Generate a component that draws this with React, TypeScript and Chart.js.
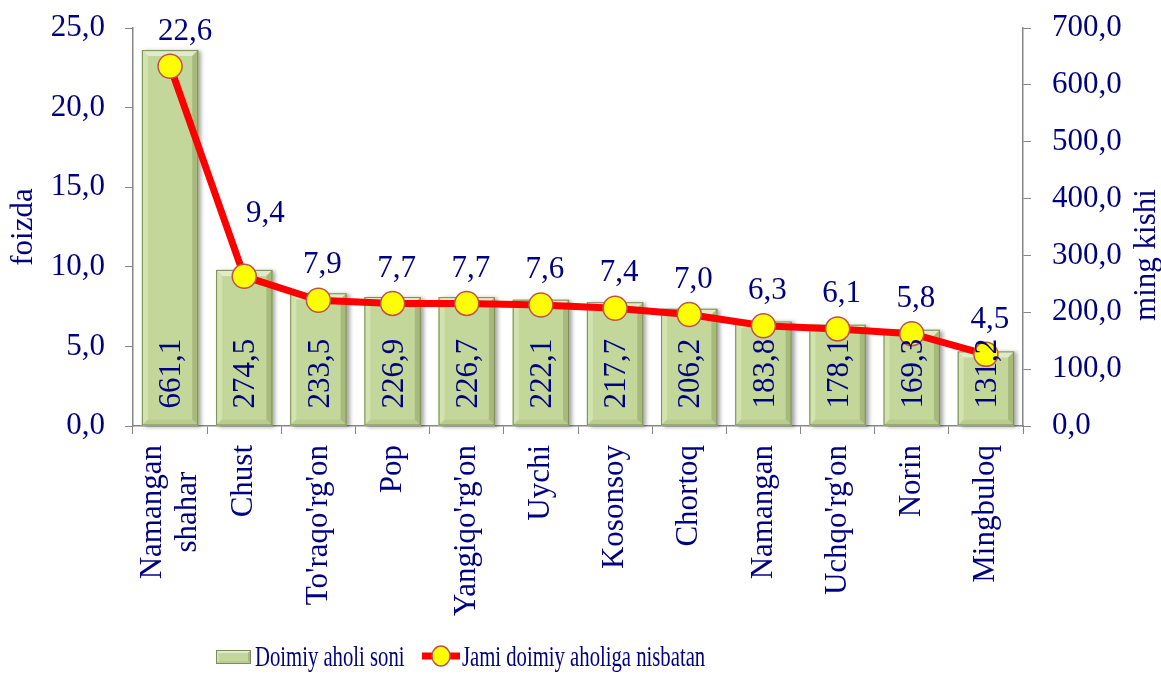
import React, { useEffect, useRef } from 'react';
import { Chart, registerables } from 'chart.js';

Chart.register(...registerables);

const categories: (string | string[])[] = [
  ['Namangan', 'shahar'], 'Chust', "To'raqo'rg'on", 'Pop', "Yangiqo'rg'on", 'Uychi',
  'Kosonsoy', 'Chortoq', 'Namangan', "Uchqo'rg'on", 'Norin', 'Mingbuloq',
];
const population = [661.1, 274.5, 233.5, 226.9, 226.7, 222.1, 217.7, 206.2, 183.8, 178.1, 169.3, 131.2];
const share = [22.6, 9.4, 7.9, 7.7, 7.7, 7.6, 7.4, 7.0, 6.3, 6.1, 5.8, 4.5];
const leftAxisMax = 25;
const leftAxisStep = 5;
const rightAxisMax = 700;
const rightAxisStep = 100;
const barLegend = 'Doimiy aholi soni';
const lineLegend = 'Jami doimiy aholiga nisbatan';
const leftTitle = 'foizda';
const rightTitle = 'ming kishi';

const NAVY = '#000080';
const FONT = "'Liberation Serif', 'Times New Roman', serif";
const FS = 31;
const AXIS = '#868686';
const BAR_FACE = '#c4d79b';
const fmt = (v: number) => v.toFixed(1).replace('.', ',');

function poly(ctx: CanvasRenderingContext2D, pts: number[], color: string) {
  ctx.beginPath();
  ctx.moveTo(pts[0], pts[1]);
  for (let i = 2; i < pts.length; i += 2) ctx.lineTo(pts[i], pts[i + 1]);
  ctx.closePath();
  ctx.fillStyle = color;
  ctx.fill();
}

function bevel(ctx: CanvasRenderingContext2D, l: number, t: number, r: number, b: number, d: number, face = false) {
  if (face) {
    ctx.fillStyle = BAR_FACE;
    ctx.fillRect(l, t, r - l, b - t);
  }
  poly(ctx, [l, t, r, t, r - d, t + d, l + d, t + d], '#e0ecc6');
  poly(ctx, [l, t, l + d, t + d, l + d, b - d, l, b], '#d3e3b0');
  poly(ctx, [r, t, r, b, r - d, b - d, r - d, t + d], '#a8b97c');
  poly(ctx, [l, b, r, b, r - d, b - d, l + d, b - d], '#b9cb8d');
  ctx.strokeStyle = '#7d8c58';
  ctx.lineWidth = 1;
  ctx.strokeRect(l + 0.5, t + 0.5, r - l - 1, b - t - 1);
}

// small manual nudges of individual line labels (as placed in the original)
function lineLabelShift(i: number): [number, number] {
  if (i === 0) return [15, -34];
  if (i === 1) return [21, -62];
  return [4, -35];
}

const customPlugin = {
  id: 'customDraw',
  beforeDatasetDraw(chart: any, args: any) {
    if (args.index !== 0) return;
    const ctx = chart.ctx as CanvasRenderingContext2D;
    chart.getDatasetMeta(0).data.forEach((bar: any) => {
      const { x, y, base, width } = bar.getProps(['x', 'y', 'base', 'width'], true);
      ctx.save();
      ctx.shadowColor = 'rgba(0,0,0,0.35)';
      ctx.shadowBlur = 4;
      ctx.shadowOffsetX = 3;
      ctx.shadowOffsetY = 1;
      ctx.fillStyle = BAR_FACE;
      ctx.fillRect(x - width / 2, y, width, base - y);
      ctx.restore();
    });
  },
  afterDatasetDraw(chart: any, args: any) {
    if (args.index !== 0) return;
    const ctx = chart.ctx as CanvasRenderingContext2D;
    chart.getDatasetMeta(0).data.forEach((bar: any) => {
      const { x, y, base, width } = bar.getProps(['x', 'y', 'base', 'width'], true);
      ctx.save();
      bevel(ctx, x - width / 2, y, x + width / 2, base, 6);
      ctx.restore();
    });
  },
  afterDatasetsDraw(chart: any) {
    const ctx = chart.ctx as CanvasRenderingContext2D;
    ctx.save();
    ctx.font = `${FS}px ${FONT}`;
    ctx.fillStyle = NAVY;
    chart.getDatasetMeta(1).data.forEach((pt: any, i: number) => {
      const [dx, dy] = lineLabelShift(i);
      ctx.textAlign = 'center';
      ctx.textBaseline = 'middle';
      ctx.fillText(fmt(share[i]), pt.x + dx, pt.y + dy);
    });
    chart.getDatasetMeta(0).data.forEach((bar: any, i: number) => {
      const { x, base } = bar.getProps(['x', 'base'], true);
      ctx.save();
      ctx.translate(x + 2, base - 17);
      ctx.rotate(-Math.PI / 2);
      ctx.textAlign = 'left';
      ctx.textBaseline = 'middle';
      ctx.fillText(fmt(population[i]), 0, 0);
      ctx.restore();
    });
    ctx.restore();
  },
  afterDraw(chart: any) {
    const ctx = chart.ctx as CanvasRenderingContext2D;
    const xs = chart.scales.x;
    const area = chart.chartArea;
    ctx.save();
    ctx.font = `${FS}px ${FONT}`;
    ctx.fillStyle = NAVY;
    const top = area.bottom + 19;
    const lineH = 35;
    categories.forEach((c, i) => {
      const lines = Array.isArray(c) ? c : [c];
      const W = Math.max(...lines.map((s) => ctx.measureText(s).width));
      const px = xs.getPixelForValue(i);
      ctx.save();
      ctx.translate(px, top + W / 2);
      ctx.rotate(-Math.PI / 2);
      ctx.textAlign = 'center';
      ctx.textBaseline = 'middle';
      lines.forEach((s, j) => {
        ctx.fillText(s, 0, (j - (lines.length - 1) / 2) * lineH);
      });
      ctx.restore();
    });
    ctx.save();
    ctx.translate(24, (area.top + area.bottom) / 2);
    ctx.rotate(-Math.PI / 2);
    ctx.textAlign = 'center';
    ctx.textBaseline = 'middle';
    ctx.fillText(leftTitle, 0, 0);
    ctx.restore();
    ctx.save();
    ctx.translate(1147, 255);
    ctx.rotate(-Math.PI / 2);
    ctx.textAlign = 'center';
    ctx.textBaseline = 'middle';
    ctx.fillText(rightTitle, 0, 0);
    ctx.restore();
    // legend
    const sx = 0.69;
    const ly = 656;
    ctx.save();
    bevel(ctx, 216, 650, 251, 664, 3, true);
    ctx.restore();
    ctx.save();
    ctx.font = `30px ${FONT}`;
    ctx.translate(255, 0);
    ctx.scale(sx, 1);
    ctx.textAlign = 'left';
    ctx.textBaseline = 'alphabetic';
    ctx.fillStyle = NAVY;
    ctx.fillText(barLegend, 0, 666);
    ctx.restore();
    ctx.save();
    ctx.strokeStyle = '#ff0000';
    ctx.lineWidth = 7;
    ctx.beginPath();
    ctx.moveTo(422, ly);
    ctx.lineTo(460, ly);
    ctx.stroke();
    ctx.beginPath();
    ctx.ellipse(441, ly, 9, 10, 0, 0, Math.PI * 2);
    ctx.fillStyle = '#ffff00';
    ctx.fill();
    ctx.lineWidth = 1.5;
    ctx.strokeStyle = '#c0504d';
    ctx.stroke();
    ctx.restore();
    ctx.save();
    ctx.font = `30px ${FONT}`;
    ctx.translate(462, 0);
    ctx.scale(sx, 1);
    ctx.textAlign = 'left';
    ctx.fillStyle = NAVY;
    ctx.fillText(lineLegend, 0, 666);
    ctx.restore();
    ctx.restore();
  },
};

const fitY = (w: number) => (s: any) => {
  s.width = w;
  s.paddingTop = 0;
  s.paddingBottom = 0;
};

export default function App() {
  const ref = useRef<HTMLCanvasElement>(null);
  useEffect(() => {
    document.body.style.margin = '0';
    const chart = new Chart(ref.current!, {
      type: 'bar',
      data: {
        labels: categories as any,
        datasets: [
          {
            type: 'bar',
            label: barLegend,
            data: population,
            yAxisID: 'yR',
            backgroundColor: BAR_FACE,
            borderWidth: 0,
            categoryPercentage: 1,
            barPercentage: 0.76,
            order: 1,
          },
          {
            type: 'line',
            label: lineLegend,
            data: share,
            yAxisID: 'yL',
            borderColor: '#ff0000',
            borderWidth: 7,
            tension: 0,
            pointRadius: 12,
            pointBackgroundColor: '#ffff00',
            pointBorderColor: '#c0504d',
            pointBorderWidth: 1.5,
            order: 0,
          } as any,
        ],
      },
      options: {
        responsive: false,
        animation: false,
        devicePixelRatio: 1,
        layout: { padding: { top: 28, left: 0, right: 0, bottom: 0 } },
        plugins: { legend: { display: false }, tooltip: { enabled: false } },
        scales: {
          x: {
            grid: { display: true, drawOnChartArea: false, drawTicks: true, tickLength: 8, color: AXIS, offset: true },
            border: { display: true, color: AXIS, width: 1.5 },
            ticks: { display: false },
            afterFit: (s: any) => { s.height = 251; s.paddingLeft = 0; s.paddingRight = 0; },
          },
          yL: {
            position: 'left',
            min: 0,
            max: leftAxisMax,
            grid: { display: true, drawOnChartArea: false, drawTicks: true, tickLength: 8, color: AXIS },
            border: { display: true, color: AXIS, width: 1.5 },
            ticks: {
              stepSize: leftAxisStep,
              padding: 20,
              color: NAVY,
              font: { family: FONT, size: FS },
              callback: (v: any) => fmt(Number(v)),
            },
            afterFit: fitY(133),
          },
          yR: {
            position: 'right',
            min: 0,
            max: rightAxisMax,
            grid: { display: true, drawOnChartArea: false, drawTicks: true, tickLength: 8, color: AXIS },
            border: { display: true, color: AXIS, width: 1.5 },
            ticks: {
              stepSize: rightAxisStep,
              padding: 21,
              color: NAVY,
              font: { family: FONT, size: FS },
              callback: (v: any) => fmt(Number(v)),
            },
            afterFit: fitY(138),
          },
        },
      } as any,
      plugins: [customPlugin],
    });
    return () => chart.destroy();
  }, []);
  return (
    <div style={{ width: 1161, height: 677 }}>
      <canvas ref={ref} width={1161} height={677} style={{ display: 'block' }} />
    </div>
  );
}
